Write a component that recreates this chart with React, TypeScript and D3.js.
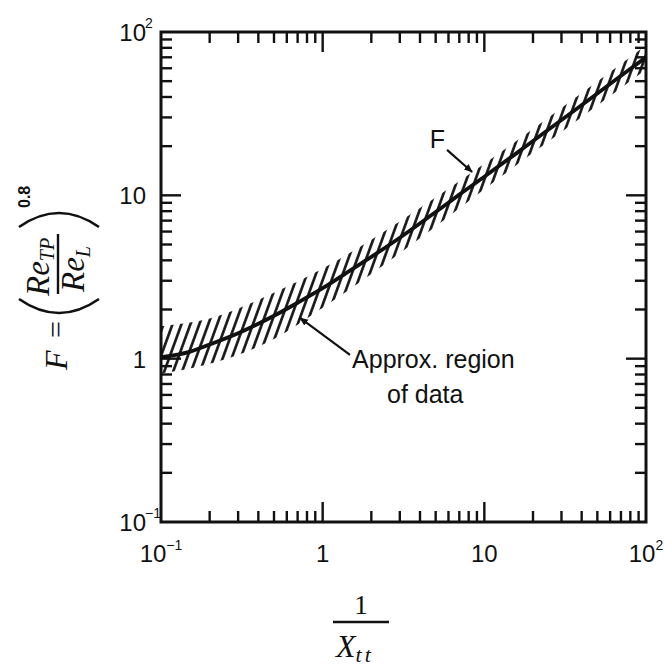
import React from 'react';
import * as d3 from 'd3';

const W = 664;
const H = 668;

// axis domains and tick labels
const xDomain: [number, number] = [0.1, 100];
const yDomain: [number, number] = [0.1, 100];
const tickLabels = [
  { v: 0.1, base: '10', sup: '\u22121' },
  { v: 1, base: '1', sup: '' },
  { v: 10, base: '10', sup: '' },
  { v: 100, base: '10', sup: '2' },
];

// curve F vs 1/Xtt
const curveX = [0.1, 0.15, 0.2, 0.3, 0.5, 0.7, 1, 1.5, 2, 3, 5, 7, 10, 20, 30, 50, 70, 100];
const curveF = [1.02, 1.1, 1.22, 1.43, 1.83, 2.2, 2.7, 3.5, 4.2, 5.5, 7.9, 10.1, 13.0, 21.5, 28.9, 42, 54, 70];

// approximate data region (hatched band)
const bandX = [0.1, 0.2, 0.5, 1, 2, 5, 10, 20, 50, 100];
const bandUpper = [1.58, 1.76, 2.53, 3.56, 5.35, 9.7, 15.6, 25.5, 49.8, 83];
const bandLower = [0.81, 0.93, 1.32, 2.05, 3.3, 6.45, 10.9, 18.2, 35.5, 59];

// annotations in data coordinates
const fLabel = { x: 4.6, y: 19.5, text: 'F' };
const fLeader = { x1: 5.88, y1: 18.97, x2: 8.4, y2: 13.9 };
const regionLabel = [
  { x: 1.52, y: 0.877, text: 'Approx. region' },
  { x: 2.5, y: 0.537, text: 'of data' },
];
const regionLeader = { x1: 1.476, y1: 1.055, x2: 0.724, y2: 1.775 };

export default function App() {
  const left = 161, right = 646, top = 32, bottom = 522;
  const x = d3.scaleLog().domain(xDomain).range([left, right]);
  const y = d3.scaleLog().domain(yDomain).range([bottom, top]);

  const ticks: { v: number; major: boolean }[] = [];
  for (let e = -1; e < 2; e++) {
    for (let m = 1; m < 10; m++) {
      const v = m * Math.pow(10, e);
      ticks.push({ v, major: m === 1 });
    }
  }
  const inner = ticks.filter((t) => t.v > 0.1 * 1.0001);

  const majorLen = 20;
  const minorLen = 11;
  const ink = '#111';

  const curvePts: [number, number][] = curveX.map((v, i) => [v, curveF[i]]);
  const line = d3
    .line<[number, number]>()
    .x((d) => x(d[0]))
    .y((d) => y(d[1]))
    .curve(d3.curveMonotoneX);

  const bandPts = bandX.map((v, i) => ({ x: v, lo: bandLower[i], hi: bandUpper[i] }));
  const area = d3
    .area<{ x: number; lo: number; hi: number }>()
    .x((d) => x(d.x))
    .y0((d) => y(d.lo))
    .y1((d) => y(d.hi))
    .curve(d3.curveMonotoneX);

  const sans = "'Liberation Sans', Arial, Helvetica, sans-serif";
  const serif = "'Liberation Serif', 'Times New Roman', serif";

  return (
    <svg
      width={W}
      height={H}
      viewBox={`0 0 ${W} ${H}`}
      style={{ position: 'absolute', left: 0, top: 0, background: '#fff' }}
    >
      <defs>
        <clipPath id="plotClip">
          <rect x={left} y={top} width={right - left} height={bottom - top} />
        </clipPath>
        <pattern
          id="hatch"
          patternUnits="userSpaceOnUse"
          width={8.4}
          height={30}
          patternTransform="rotate(20)"
        >
          <line x1={4.2} y1={0} x2={4.2} y2={30} stroke={ink} strokeWidth={2.6} />
        </pattern>
        <marker
          id="arr"
          viewBox="0 0 10 10"
          refX={9}
          refY={5}
          markerWidth={4}
          markerHeight={4}
          orient="auto"
        >
          <path d="M0,1 L10,5 L0,9 z" fill={ink} />
        </marker>
      </defs>

      <rect x={0} y={0} width={W} height={H} fill="#fff" />

      {/* hatched band and curve */}
      <g clipPath="url(#plotClip)">
        <path d={area(bandPts) || ''} fill="url(#hatch)" stroke="none" />
        <path d={line(curvePts) || ''} fill="none" stroke={ink} strokeWidth={3.8} strokeLinejoin="round" />
      </g>

      {/* ticks */}
      <g stroke={ink} strokeWidth={2.4}>
        {inner.map((t, i) => {
          const L = t.major ? majorLen : minorLen;
          const px = x(t.v);
          const py = y(t.v);
          return (
            <g key={i}>
              <line x1={px} y1={bottom} x2={px} y2={bottom - L} />
              <line x1={px} y1={top} x2={px} y2={top + L} />
              <line x1={left} y1={py} x2={left + L} y2={py} />
              <line x1={right} y1={py} x2={right - L} y2={py} />
            </g>
          );
        })}
      </g>

      {/* frame */}
      <rect
        x={left}
        y={top}
        width={right - left}
        height={bottom - top}
        fill="none"
        stroke={ink}
        strokeWidth={3}
      />

      {/* x tick labels */}
      {tickLabels.map((t, i) => (
        <text
          key={'xl' + i}
          x={x(t.v)}
          y={bottom + 40}
          textAnchor="middle"
          fontFamily={sans}
          fontSize={24}
          fill={ink}
        >
          {t.base}
          {t.sup && (
            <tspan fontSize={14} dy={-12}>
              {t.sup}
            </tspan>
          )}
        </text>
      ))}

      {/* y tick labels */}
      {tickLabels.map((t, i) => (
        <g key={'yl' + i}>
          <text
            x={left - 15}
            y={y(t.v) + 9}
            textAnchor="end"
            fontFamily={sans}
            fontSize={24}
            fill={ink}
          >
            {t.base}
          </text>
          {t.sup && (
            <text
              x={left - 16}
              y={y(t.v) - 4}
              textAnchor="start"
              fontFamily={sans}
              fontSize={14}
              fill={ink}
            >
              {t.sup}
            </text>
          )}
        </g>
      ))}

      {/* annotations */}
      <text x={x(fLabel.x)} y={y(fLabel.y)} fontFamily={sans} fontSize={25} fill={ink}>
        {fLabel.text}
      </text>
      <line
        x1={x(fLeader.x1)}
        y1={y(fLeader.y1)}
        x2={x(fLeader.x2)}
        y2={y(fLeader.y2)}
        stroke={ink}
        strokeWidth={2.2}
        markerEnd="url(#arr)"
      />
      {regionLabel.map((r, i) => (
        <text key={'rl' + i} x={x(r.x)} y={y(r.y)} fontFamily={sans} fontSize={25} fill={ink}>
          {r.text}
        </text>
      ))}
      <line
        x1={x(regionLeader.x1)}
        y1={y(regionLeader.y1)}
        x2={x(regionLeader.x2)}
        y2={y(regionLeader.y2)}
        stroke={ink}
        strokeWidth={2.2}
        markerEnd="url(#arr)"
      />

      {/* x axis title: 1 / X_tt */}
      <g fill={ink} fontFamily={serif}>
        <text x={361} y={614} textAnchor="middle" fontSize={27}>
          1
        </text>
        <line x1={333} y1={622} x2={389} y2={622} stroke={ink} strokeWidth={2.4} />
        <text x={336} y={657} fontSize={32} fontStyle="italic">
          X
          <tspan fontSize={22} dy={5} letterSpacing={3}>
            tt
          </tspan>
        </text>
      </g>

      {/* y axis title: F = (Re_TP / Re_L)^0.8 */}
      <g transform="translate(67,370) rotate(-90)" fill={ink} fontFamily={serif}>
        <text x={0} y={0} fontSize={32} fontStyle="italic">
          F
        </text>
        <text x={32} y={-1} fontSize={30}>
          =
        </text>
        <path d="M71,-48 Q43,-8 71,32" fill="none" stroke={ink} strokeWidth={2.6} />
        <path d="M143,-48 Q171,-8 143,32" fill="none" stroke={ink} strokeWidth={2.6} />
        <text x={74} y={-18} fontSize={33} fontStyle="italic">
          Re
          <tspan fontSize={20} dy={5}>
            TP
          </tspan>
        </text>
        <line x1={76} y1={-9} x2={136} y2={-9} stroke={ink} strokeWidth={2.4} />
        <text x={78} y={17} fontSize={33} fontStyle="italic">
          Re
          <tspan fontSize={20} dy={6}>
            L
          </tspan>
        </text>
        <text x={162} y={-37} fontSize={16} fontWeight="bold" fontFamily={sans}>
          0.8
        </text>
      </g>
    </svg>
  );
}
